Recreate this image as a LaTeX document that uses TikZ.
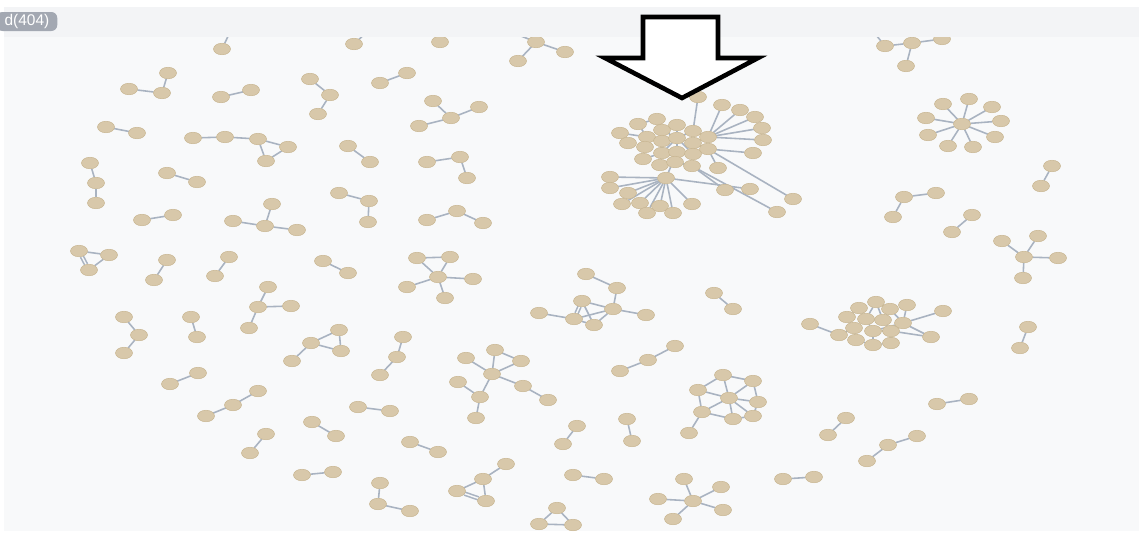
\documentclass[tikz,border=0pt]{standalone}
\usepackage{fontspec}
\newfontfamily\badgefont{Liberation Sans}
\usetikzlibrary{shapes.geometric}
\pgfdeclarelayer{bg}
\pgfdeclarelayer{edges}
\pgfsetlayers{bg,edges,main}
\definecolor{nodetan}{HTML}{D8C8AA}
\definecolor{nodeedge}{HTML}{C9B793}
\definecolor{linkgrey}{HTML}{A9B3C1}
\definecolor{canvasbg}{HTML}{F8F9FA}
\definecolor{bandbg}{HTML}{F3F4F6}
\definecolor{badgegrey}{HTML}{A3A8B2}
\tikzset{
  nd/.style={ellipse, fill=nodetan, draw=nodeedge, line width=0.15pt,
    minimum width=1.7mm, minimum height=1.15mm, inner sep=0pt, outer sep=0pt},
  ln/.style={draw=linkgrey, line width=0.45pt},
  dbl/.style={ln, double=canvasbg, double distance=0.4pt},
  arw/.style={draw=black, fill=white, line width=1.3pt, line join=miter},
  countbadge/.style={fill=badgegrey, rounded corners=0.6mm, text=white,
    font=\badgefont\fontsize{4.4}{5}\selectfont, minimum height=1.9mm,
    inner xsep=0.8mm, inner ysep=0pt}
}

\begin{document}
\begin{tikzpicture}[x=0.1mm, y=-0.1mm]
\clip (0,0) rectangle (1139,536);
\begin{pgfonlayer}{bg}
\fill[white] (0,0) rectangle (1139,536);
\fill[canvasbg] (4,7) rectangle (1139,531);
\end{pgfonlayer}

% left part
\foreach \n/\x/\y in {t1/222/49, t2/354/44,
  ga1/168/73, ga2/129/89, ga3/162/93, pa1/221/97, pa2/251/90,
  gb1/310/79, gb2/330/95, gb3/318/114, pb1/380/83, pb2/407/73,
  pc1/106/127, pc2/137/133,
  gc1/193/138, gc2/225/137, gc3/258/139, gc4/288/147, gc5/266/161,
  pd1/348/146, pd2/370/162, gd1/90/163, gd2/96/183, gd3/96/203,
  pe1/167/173, pe2/197/182, ge1/339/193, ge2/369/201, ge3/368/222,
  gf1/272/204, gf2/233/221, gf3/265/226, gf4/297/230,
  pf1/142/220, pf2/173/215, gg1/79/251, gg2/109/255, gg3/89/270,
  pg1/167/260, pg2/154/280, ph1/229/257, ph2/215/276, pi1/323/261, pi2/348/273,
  gh1/268/287, gh2/258/307, gh3/291/306, gh4/249/328,
  gi1/124/317, gi2/139/335, gi3/124/353, pj1/191/317, pj2/197/337,
  gj1/339/330, gj2/311/343, gj3/341/351, gj4/292/361,
  pk1/170/384, pk2/198/373, gk1/206/416, gk2/233/405, gk3/258/391,
  pl1/358/407, pl2/390/411, pm1/312/422, pm2/336/436,
  pn1/266/434, pn2/250/453, po1/302/475, po2/333/472}
  \node[nd] (\n) at (\x,\y) {};

% middle part
\foreach \n/\x/\y in {t3/440/42, gl1/536/42, gl2/565/52, gl3/518/61,
  gm1/433/101, gm2/451/118, gm3/479/107, gm4/419/126,
  gn1/427/162, gn2/460/157, gn3/467/178, go1/427/220, go2/457/211, go3/483/223,
  gp1/417/258, gp2/450/257, gp3/438/277, gp4/407/287, gp5/473/279, gp6/445/298,
  gq1/586/274, gq2/617/288, gq3/613/309, gq4/582/301, gq5/574/319,
  gq6/594/325, gq7/539/313, gq8/646/315, pp1/714/293, pp2/733/309,
  gr1/403/337, gr2/397/357, gr3/380/375,
  gs1/495/350, gs2/466/358, gs3/521/361, gs4/492/374, gs5/458/382,
  gs6/480/397, gs7/523/386, gs8/548/400, gs9/476/418,
  gt1/620/371, gt2/648/360, gt3/675/346,
  pq1/577/426, pq2/563/444, pr1/627/419, pr2/632/441, ps1/410/442, ps2/438/452,
  gu1/506/464, gu2/483/479, gu3/457/491, gu4/486/501, pt1/573/475, pt2/604/479,
  gv0/693/501, gv1/684/479, gv2/721/487, gv3/658/499, gv4/723/510, gv5/673/519,
  gw1/557/508, gw2/539/524, gw3/573/525, gx1/380/483, gx2/378/504, gx3/410/511,
  c1/723/375, c2/753/381, c3/698/390, c4/729/398, c5/758/402,
  c6/702/412, c7/733/419, c8/753/416, c9/689/433}
  \node[nd] (\n) at (\x,\y) {};

% big cluster under the arrow
\foreach \n/\x/\y in {b0/698/97,
  k1/620/133, k2/628/143, k3/638/124, k4/657/119, k5/647/137, k6/662/130,
  k7/677/125, k8/693/131, k9/708/137, k10/645/147, k11/662/141, k12/677/138,
  k13/693/143, k14/708/149, k15/643/159, k16/662/153, k17/677/152, k18/693/154,
  k19/660/165, k20/675/162, k21/692/166, k22/718/168,
  f1/722/105, f2/740/110, f3/755/117, f4/762/128, f5/763/140, f6/753/153,
  f7/725/190, f8/750/189, f9/793/199, f10/777/212,
  lh/666/178, l1/610/177, l2/610/188, l3/628/193, l4/622/204, l5/640/203,
  l6/647/213, l7/660/206, l8/673/213, l9/692/204}
  \node[nd] (\n) at (\x,\y) {};

% right part
\foreach \n/\x/\y in {gy1/885/46, gy2/912/43, gy3/942/39, gy4/906/66,
  s0/962/124, s1/943/104, s2/969/99, s3/992/107, s4/1001/121, s5/995/137,
  s6/973/147, s7/948/146, s8/928/135, s9/926/118,
  pu1/1052/166, pu2/1041/186, gz1/904/197, gz2/936/193, gz3/893/217,
  pv1/972/215, pv2/952/232,
  h0/1024/257, h1/1002/241, h2/1038/236, h3/1058/258, h4/1023/278,
  pw1/1028/327, pw2/1020/348, px1/937/404, px2/969/399, py1/846/418, py2/828/435,
  rc1/867/461, rc2/888/445, rc3/917/436, pz1/783/479, pz2/814/477,
  r1/876/302, r2/859/308, r3/890/309, r4/907/305, r5/847/317, r6/866/319,
  r7/883/320, r8/903/323, r9/810/324, r10/943/311, r11/854/328, r12/873/331,
  r13/891/331, r14/839/335, r15/856/340, r16/873/345, r17/891/343, r18/931/337}
  \node[nd] (\n) at (\x,\y) {};

\coordinate (t1up) at (231,30);
\coordinate (t2up) at (369,30);
\coordinate (gl1up) at (506,30);
\coordinate (gy1up) at (872,30);

\begin{pgfonlayer}{edges}
\foreach \a/\b in {t1/t1up, t2/t2up, gl1/gl1up, gy1/gy1up,
  ga2/ga3, ga3/ga1, pa1/pa2, gb1/gb2, gb2/gb3, pb1/pb2, pc1/pc2,
  gc1/gc2, gc2/gc3, gc3/gc4, gc3/gc5, gc4/gc5, pd1/pd2, gd1/gd2, gd2/gd3,
  pe1/pe2, ge1/ge2, ge2/ge3, gf1/gf3, gf2/gf3, gf3/gf4, pf1/pf2,
  gg1/gg2, gg2/gg3, pg1/pg2, ph1/ph2, pi1/pi2, gh1/gh2, gh2/gh3, gh2/gh4,
  gi1/gi2, gi2/gi3, pj1/pj2, gj2/gj1, gj1/gj3, gj2/gj3, gj2/gj4,
  pk1/pk2, gk1/gk2, gk2/gk3, pl1/pl2, pm1/pm2, pn1/pn2, po1/po2,
  gl1/gl2, gl1/gl3, gm1/gm2, gm2/gm3, gm2/gm4, gn1/gn2, gn2/gn3,
  go1/go2, go2/go3, gp1/gp2, gp1/gp3, gp2/gp3, gp3/gp4, gp3/gp5, gp3/gp6,
  gq1/gq2, gq2/gq3, gq4/gq3, gq5/gq3, gq6/gq3, gq5/gq6, gq7/gq5, gq3/gq8,
  gq4/gq6, pp1/pp2, gr1/gr2, gr2/gr3,
  gs1/gs4, gs1/gs3, gs3/gs4, gs2/gs4, gs5/gs6, gs6/gs4, gs4/gs7, gs7/gs8, gs6/gs9,
  gt1/gt2, gt2/gt3, pq1/pq2, pr1/pr2, ps1/ps2, gu1/gu2, gu2/gu3, gu2/gu4,
  pt1/pt2, gv0/gv1, gv0/gv2, gv0/gv3, gv0/gv4, gv0/gv5,
  gw1/gw2, gw1/gw3, gw2/gw3, gx1/gx2, gx2/gx3,
  c1/c3, c1/c4, c1/c2, c2/c4, c2/c5, c3/c4, c3/c6, c4/c5, c4/c6, c4/c7,
  c4/c8, c6/c7, c7/c8, c6/c9, c5/c8,
  b0/k8, k9/f1, k9/f2, k9/f3, k9/f4, k9/f5, k14/f6, k14/k22, k21/f7,
  lh/f8, k14/f9, k21/f10, lh/k17, lh/l1, lh/l2, lh/l3, lh/l4, lh/l5,
  lh/l6, lh/l7, lh/l8, lh/l9,
  k12/k6, k12/k7, k12/k8, k12/k11, k12/k13, k12/k16, k12/k17, k12/k18,
  k5/k3, k5/k1, k5/k10, k2/k1, k4/k6, k15/k16, k19/k20, k20/k21,
  k9/k8, k14/k13, k11/k16, k3/k4,
  gy1/gy2, gy2/gy3, gy2/gy4,
  s0/s1, s0/s2, s0/s3, s0/s4, s0/s5, s0/s6, s0/s7, s0/s8, s0/s9,
  pu1/pu2, gz1/gz2, gz1/gz3, pv1/pv2, h0/h1, h0/h2, h0/h3, h0/h4,
  pw1/pw2, px1/px2, py1/py2, rc1/rc2, rc2/rc3, pz1/pz2,
  r9/r14, r10/r8, r18/r8, r18/r13, r1/r6, r1/r7, r2/r6, r3/r7, r4/r8,
  r5/r11, r6/r12, r7/r13, r12/r13, r11/r15, r12/r16, r13/r17, r14/r11,
  r6/r7, r3/r8, r15/r16, r16/r17, r2/r5, r12/r8}
  \draw[ln] (\a) -- (\b);
\foreach \a/\b in {gg1/gg3, gq4/gq5, gu3/gu4}
  \draw[dbl] (\a) -- (\b);
\end{pgfonlayer}

% top strip and count
\fill[bandbg] (4,7) rectangle (1139,37);
\node[countbadge, anchor=east] (count) at (58,21.5) {d(404)};

% pointer
\draw[arw] (643,17) -- (718,17) -- (718,58) -- (758,58) -- (682,98)
  -- (605,58) -- (643,58) -- cycle;
\end{tikzpicture}
\end{document}
